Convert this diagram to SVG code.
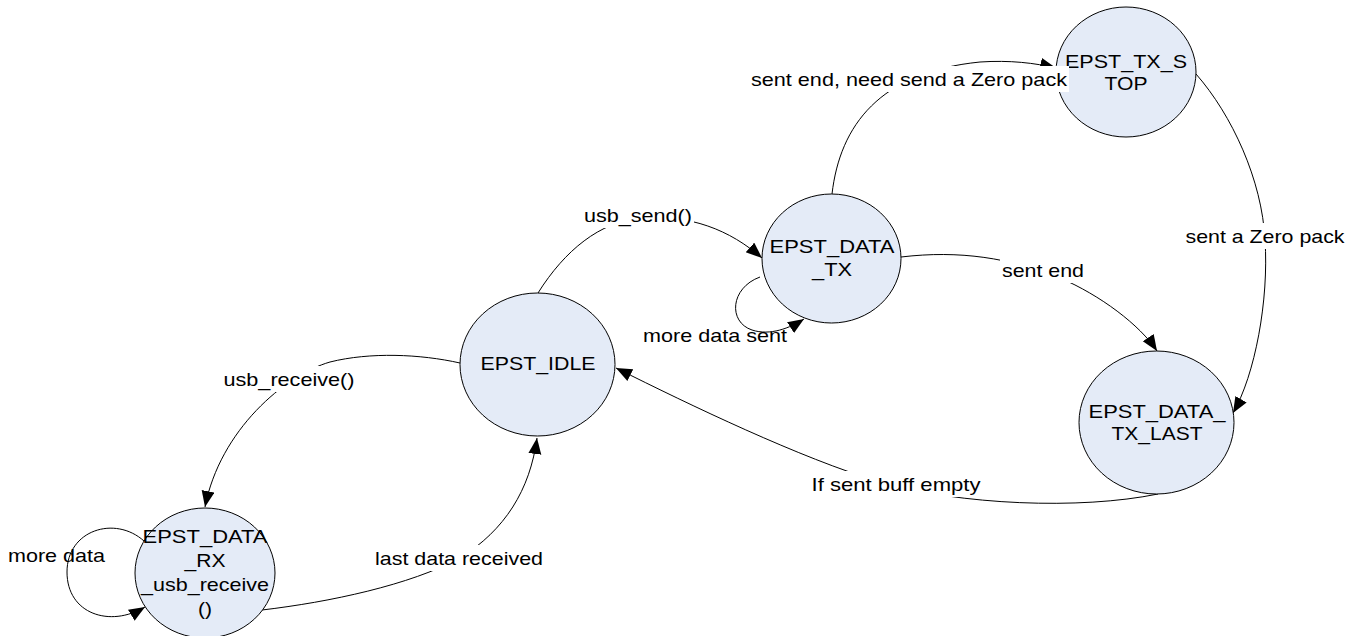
<svg xmlns="http://www.w3.org/2000/svg" width="1359" height="636" viewBox="0 0 1359 636">
<style>
.node{fill:#E4EBF7;stroke:#000;stroke-width:1}
.edge{fill:none;stroke:#000;stroke-width:1}
text{font-family:"Liberation Sans",Arial,sans-serif;font-size:18.5px;fill:#000}
.c{text-anchor:middle}
.bg{fill:#fff}
</style>
<defs>
<marker id="arr" markerUnits="userSpaceOnUse" markerWidth="17" markerHeight="14" refX="16" refY="6.5" orient="auto">
<path d="M0,0 L16,6.5 L0,13 z" fill="#000"/>
</marker>
</defs>
<rect width="1359" height="636" fill="#fff"/>
<g id="connectors">
<path class="edge" marker-end="url(#arr)" d="M538,293 C565,250 600,222 640,218 C690,214 730,230 762,258"/>
<path class="edge" marker-end="url(#arr)" d="M760,277 C730,288 728,322 752,330 C770,336 790,328 804,319"/>
<path class="edge" marker-end="url(#arr)" d="M832,194 C840,125 880,72 980,62 C1010,60 1035,63 1056,68"/>
<path class="edge" marker-end="url(#arr)" d="M901,257 C960,250 1010,258 1060,278 C1100,295 1140,325 1157,351"/>
<path class="edge" marker-end="url(#arr)" d="M1196,74 C1232,115 1262,180 1265,240 C1269,300 1255,375 1233,413"/>
<path class="edge" marker-end="url(#arr)" d="M1158,494 C1080,510 960,505 880,482 C800,458 690,405 616,368"/>
<path class="edge" marker-end="url(#arr)" d="M460,363 C420,354 370,352 330,362 C285,375 220,430 205,507"/>
<path class="edge" marker-end="url(#arr)" d="M262,610 C330,602 410,585 460,558 C505,530 530,490 537,438"/>
<path class="edge" marker-end="url(#arr)" d="M144,541 C115,515 67,530 67,572 C67,614 110,628 145,607"/>
</g>
<g id="node-idle">
<ellipse class="node" cx="537.5" cy="364.5" rx="77.5" ry="71.5"/>
<text class="c" x="538" y="370" textLength="115" lengthAdjust="spacingAndGlyphs">EPST_IDLE</text>
</g>
<g id="node-data-tx">
<ellipse class="node" cx="831.5" cy="258.5" rx="69.5" ry="64.5"/>
<text class="c" x="832" y="253" textLength="125" lengthAdjust="spacingAndGlyphs">EPST_DATA</text>
<text class="c" x="832" y="276" textLength="40" lengthAdjust="spacingAndGlyphs">_TX</text>
</g>
<g id="node-tx-stop">
<ellipse class="node" cx="1126" cy="72" rx="70" ry="65"/>
<text class="c" x="1126" y="68" textLength="122" lengthAdjust="spacingAndGlyphs">EPST_TX_S</text>
<text class="c" x="1126" y="90" textLength="43" lengthAdjust="spacingAndGlyphs">TOP</text>
</g>
<g id="node-data-tx-last">
<ellipse class="node" cx="1156.5" cy="422.5" rx="77.5" ry="71.5"/>
<text class="c" x="1157" y="418" textLength="137" lengthAdjust="spacingAndGlyphs">EPST_DATA_</text>
<text class="c" x="1157" y="440" textLength="91" lengthAdjust="spacingAndGlyphs">TX_LAST</text>
</g>
<g id="node-data-rx">
<ellipse class="node" cx="205" cy="573" rx="70" ry="65"/>
<text class="c" x="205" y="543" textLength="125" lengthAdjust="spacingAndGlyphs">EPST_DATA</text>
<text class="c" x="205" y="567" textLength="41" lengthAdjust="spacingAndGlyphs">_RX</text>
<text class="c" x="205" y="591" textLength="128" lengthAdjust="spacingAndGlyphs">_usb_receive</text>
<text class="c" x="205" y="615" textLength="14" lengthAdjust="spacingAndGlyphs">()</text>
</g>
<g id="labels">
<rect class="bg" x="581" y="202" width="113" height="26"/>
<text class="c" x="638" y="222" textLength="108" lengthAdjust="spacingAndGlyphs">usb_send()</text>
<text x="643" y="342" textLength="144" lengthAdjust="spacingAndGlyphs">more data sent</text>
<rect class="bg" x="748" y="66" width="321" height="26"/>
<text class="c" x="909" y="86" textLength="316" lengthAdjust="spacingAndGlyphs">sent end, need send a Zero pack</text>
<rect class="bg" x="1000" y="257" width="85" height="26"/>
<text class="c" x="1043" y="277" textLength="82" lengthAdjust="spacingAndGlyphs">sent end</text>
<rect class="bg" x="1183" y="223" width="164" height="26"/>
<text class="c" x="1265" y="243" textLength="159" lengthAdjust="spacingAndGlyphs">sent a Zero pack</text>
<rect class="bg" x="809" y="471" width="174" height="26"/>
<text class="c" x="896" y="491" textLength="169" lengthAdjust="spacingAndGlyphs">If sent buff empty</text>
<rect class="bg" x="221" y="366" width="136" height="26"/>
<text class="c" x="289" y="386" textLength="131" lengthAdjust="spacingAndGlyphs">usb_receive()</text>
<rect class="bg" x="373" y="545" width="172" height="26"/>
<text class="c" x="459" y="565" textLength="168" lengthAdjust="spacingAndGlyphs">last data received</text>
<text x="8" y="562" textLength="97" lengthAdjust="spacingAndGlyphs">more data</text>
</g>
</svg>
